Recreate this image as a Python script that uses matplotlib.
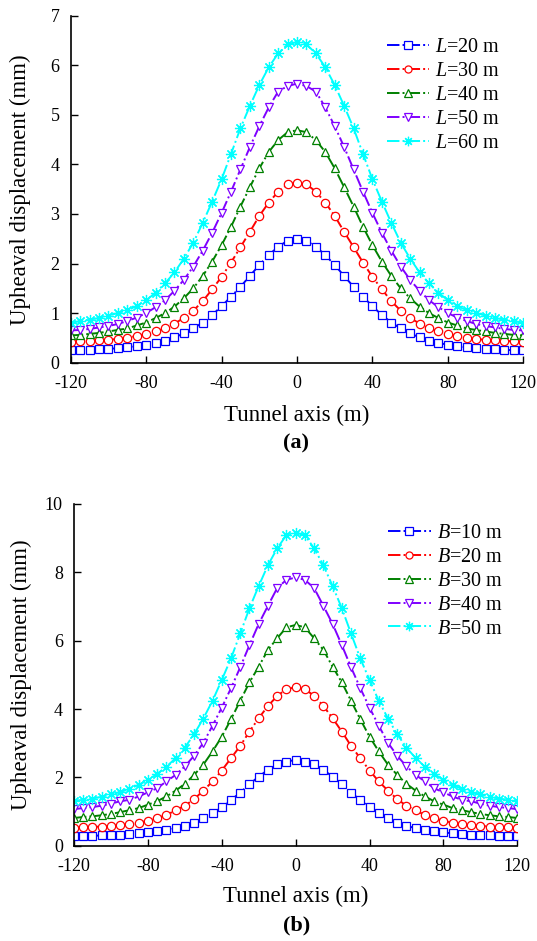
import numpy as np
import matplotlib
matplotlib.use('Agg')
import matplotlib.pyplot as plt

plt.rcParams['font.family'] = ['Liberation Serif', 'DejaVu Serif']
plt.rcParams['mathtext.fontset'] = 'custom'
plt.rcParams['mathtext.rm'] = 'Liberation Serif'
plt.rcParams['mathtext.it'] = 'Liberation Serif:italic'
plt.rcParams['axes.unicode_minus'] = False

x = np.arange(-120, 121, 5)

# panel (a): values for x = 0, 5, ..., 120 (profile is symmetric about 0)
L20 = [2.49, 2.46, 2.34, 2.17, 1.97, 1.75, 1.53, 1.33, 1.14, 0.96, 0.81, 0.69, 0.59,
       0.51, 0.44, 0.40, 0.36, 0.33, 0.31, 0.29, 0.28, 0.27, 0.26, 0.25, 0.25]
L30 = [3.63, 3.60, 3.45, 3.23, 2.96, 2.64, 2.33, 2.02, 1.73, 1.48, 1.24, 1.05, 0.90,
       0.79, 0.69, 0.63, 0.57, 0.54, 0.50, 0.48, 0.46, 0.45, 0.44, 0.43, 0.42]
L40 = [4.69, 4.65, 4.49, 4.25, 3.92, 3.54, 3.15, 2.74, 2.37, 2.04, 1.75, 1.50, 1.30,
       1.13, 1.00, 0.90, 0.81, 0.75, 0.69, 0.66, 0.63, 0.60, 0.58, 0.56, 0.55]
L50 = [5.63, 5.58, 5.47, 5.15, 4.77, 4.35, 3.90, 3.45, 3.02, 2.62, 2.26, 1.94, 1.67,
       1.45, 1.26, 1.12, 1.00, 0.91, 0.84, 0.78, 0.74, 0.71, 0.68, 0.66, 0.65]
L60 = [6.47, 6.42, 6.24, 5.96, 5.60, 5.18, 4.73, 4.21, 3.70, 3.25, 2.82, 2.42, 2.10,
       1.82, 1.60, 1.41, 1.26, 1.14, 1.06, 1.00, 0.95, 0.90, 0.87, 0.84, 0.80]

# panel (b)
B10 = [2.51, 2.46, 2.38, 2.22, 2.02, 1.80, 1.55, 1.34, 1.12, 0.95, 0.80, 0.67, 0.58,
       0.51, 0.46, 0.43, 0.39, 0.36, 0.34, 0.32, 0.31, 0.30, 0.29, 0.28, 0.27]
B20 = [4.63, 4.59, 4.38, 4.09, 3.73, 3.34, 2.92, 2.56, 2.20, 1.88, 1.61, 1.36, 1.17,
       1.03, 0.90, 0.80, 0.73, 0.67, 0.63, 0.60, 0.58, 0.56, 0.55, 0.54, 0.53]
B30 = [6.46, 6.39, 6.07, 5.73, 5.24, 4.78, 4.24, 3.70, 3.19, 2.76, 2.37, 2.07, 1.81,
       1.61, 1.44, 1.30, 1.20, 1.10, 1.04, 0.98, 0.93, 0.89, 0.86, 0.84, 0.81]
B40 = [7.85, 7.78, 7.54, 7.02, 6.49, 5.87, 5.22, 4.61, 4.04, 3.51, 3.01, 2.63, 2.32,
       2.07, 1.88, 1.68, 1.56, 1.44, 1.34, 1.30, 1.23, 1.17, 1.13, 1.10, 1.07]
B50 = [9.16, 9.09, 8.70, 8.21, 7.60, 6.95, 6.21, 5.48, 4.85, 4.24, 3.72, 3.26, 2.87,
       2.56, 2.31, 2.10, 1.92, 1.78, 1.66, 1.57, 1.50, 1.43, 1.38, 1.34, 1.31]

labels_a = ['$L$=20 m', '$L$=30 m', '$L$=40 m', '$L$=50 m', '$L$=60 m']
labels_b = ['$B$=10 m', '$B$=20 m', '$B$=30 m', '$B$=40 m', '$B$=50 m']
colors = ['#0000ff', '#ff0000', '#008000', '#7f00ff', '#00ffff']
markers = ['s', 'o', '^', 'v', (8, 2, 0)]


def full(half):
    half = list(half)
    return np.array(half[:0:-1] + half)


def draw(ax, series, labels, ymax, ystep, leg_xy, xlab_y, ylab_x):
    for s, lab, c, m in zip(series, labels, colors, markers):
        ms = 8 if m == (8, 2, 0) else 6
        ax.plot(x, full(s), linestyle='-.', color=c, lw=1.4, marker=m, ms=ms,
                mfc='white', mec=c, mew=0.9, label=lab)
    ax.set_xlim(-120, 120)
    ax.set_ylim(0, ymax)
    ax.set_xticks(np.arange(-120, 121, 40))
    ax.set_yticks(np.arange(0, ymax + 0.1, ystep))
    ax.spines['top'].set_visible(False)
    ax.spines['right'].set_visible(False)
    ax.tick_params(direction='in', length=5, labelsize=13, width=1)
    ax.tick_params(axis='x', pad=9)
    ax.tick_params(axis='y', pad=8)
    for sp in ax.spines.values():
        sp.set_linewidth(1.2)
    ax.set_xlabel('Tunnel axis (m)', fontsize=16.5, va='center')
    ax.set_ylabel('Upheaval displacement (mm)', fontsize=16.5, va='center')
    ax.xaxis.set_label_coords(0.5, xlab_y)
    ax.yaxis.set_label_coords(ylab_x, 0.5)
    ax.legend(loc='upper left', bbox_to_anchor=leg_xy, bbox_transform=fig.transFigure,
              frameon=False, fontsize=14.5, handlelength=2.1, labelspacing=0.24,
              handletextpad=0.3, borderaxespad=0, markerscale=0.85)


fig = plt.figure(figsize=(5.37, 9.41), dpi=100)
ax1 = fig.add_axes([0.1317, 0.6146, 0.8428, 0.3687])
ax2 = fig.add_axes([0.1378, 0.1013, 0.8255, 0.3631])

draw(ax1, [L20, L30, L40, L50, L60], labels_a, 7, 1, (0.705, 0.968), -0.151, -0.112)
draw(ax2, [B10, B20, B30, B40, B50], labels_b, 10, 2, (0.708, 0.452), -0.150, -0.118)

fig.text(0.552, 0.529, '(a)', ha='center', va='center', fontsize=16, fontweight='bold')
fig.text(0.552, 0.017, '(b)', ha='center', va='center', fontsize=16, fontweight='bold')

fig.savefig('out.png', dpi=100)
